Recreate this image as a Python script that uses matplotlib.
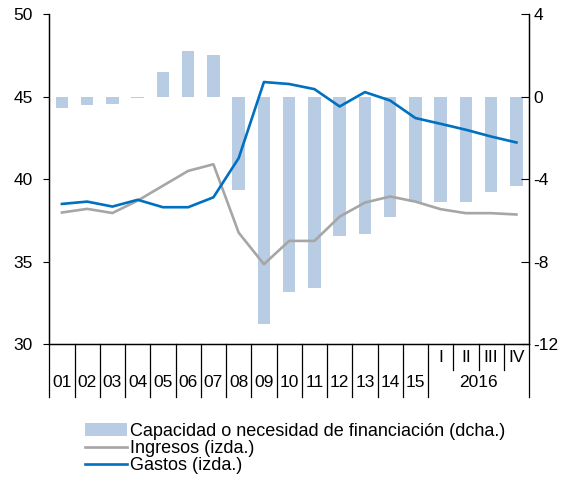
import matplotlib
matplotlib.use("Agg")
import numpy as np
import matplotlib.pyplot as plt
import matplotlib.transforms as mtransforms

plt.rcParams['font.family'] = ['Liberation Sans', 'DejaVu Sans']
plt.rcParams['axes.unicode_minus'] = False

# datos
cats = ["01", "02", "03", "04", "05", "06", "07", "08", "09", "10",
        "11", "12", "13", "14", "15", "I", "II", "III", "IV"]
capacidad = [-0.56, -0.42, -0.34, -0.08, 1.2, 2.23, 2.02, -4.52, -11.0, -9.45,
             -9.26, -6.74, -6.67, -5.83, -5.09, -5.09, -5.09, -4.61, -4.33]
ingresos = [37.98, 38.2, 37.95, 38.7, 39.6, 40.5, 40.9, 36.76, 34.85, 36.26,
            36.26, 37.73, 38.58, 38.95, 38.64, 38.18, 37.94, 37.94, 37.86]
gastos = [38.5, 38.64, 38.34, 38.75, 38.3, 38.3, 38.9, 41.27, 45.88, 45.76,
          45.45, 44.4, 45.27, 44.76, 43.7, 43.35, 42.99, 42.58, 42.22]
year_label = "2016"

x = np.arange(len(cats))

fig = plt.figure(figsize=(5.61, 4.79), dpi=100)
ax1 = fig.add_axes([0.0879, 0.2812, 0.943 - 0.0879, 0.9708 - 0.2812])
ax2 = ax1.twinx()

ax2.bar(x, capacidad, width=0.5, color="#B8CCE4", label="Capacidad o necesidad de financiación (dcha.)")
ax1.plot(x, ingresos, color="#A6A6A6", lw=1.9, label="Ingresos (izda.)")
ax1.plot(x, gastos, color="#0070C0", lw=1.9, label="Gastos (izda.)")

ax1.set_zorder(ax2.get_zorder() + 1)
ax1.patch.set_visible(False)

ax1.set_xlim(-0.5, len(cats) - 0.5)
ax1.set_ylim(30, 50)
ax1.set_yticks([30, 35, 40, 45, 50])
ax2.set_ylim(-12, 4)
ax2.set_yticks([-12, -8, -4, 0, 4])

for a in (ax1, ax2):
    a.spines['top'].set_visible(False)
    a.set_xticks([])
ax1.tick_params(axis='y', direction='out', length=4, width=0.8, labelsize=12.5, pad=8)
ax2.tick_params(axis='y', direction='in', length=6, width=0.8, labelsize=12.5, pad=3)
for a in (ax1, ax2):
    for s in a.spines.values():
        s.set_linewidth(0.9)

# separadores y etiquetas del eje x
trans = mtransforms.blended_transform_factory(ax1.transData, ax1.transAxes)
full_seps = list(range(0, 16)) + [len(cats)]
for i in full_seps:
    ax1.plot([i - 0.5, i - 0.5], [0, -0.16], color="black", lw=0.9, transform=trans, clip_on=False)
for i in [16, 17, 18]:
    ax1.plot([i - 0.5, i - 0.5], [0, -0.079], color="black", lw=0.9, transform=trans, clip_on=False)
for i in range(15):
    ax1.text(x[i], -0.117, cats[i], transform=trans, ha="center", va="center", fontsize=12.5)
for i in range(15, len(cats)):
    ax1.text(x[i], -0.039, cats[i], transform=trans, ha="center", va="center", fontsize=12.5)
ax1.text(16.5, -0.117, year_label, transform=trans, ha="center", va="center", fontsize=12.5)

h2, l2 = ax2.get_legend_handles_labels()
h1, l1 = ax1.get_legend_handles_labels()
fig.legend(h2 + h1, l2 + l1, loc="upper left", bbox_to_anchor=(0.152, 1 - 423 / 479),
           bbox_transform=fig.transFigure, frameon=False, fontsize=13,
           handlelength=2.3, handletextpad=0.2, labelspacing=0.0, borderpad=0,
           borderaxespad=0)

fig.savefig("out.png", dpi=100)
